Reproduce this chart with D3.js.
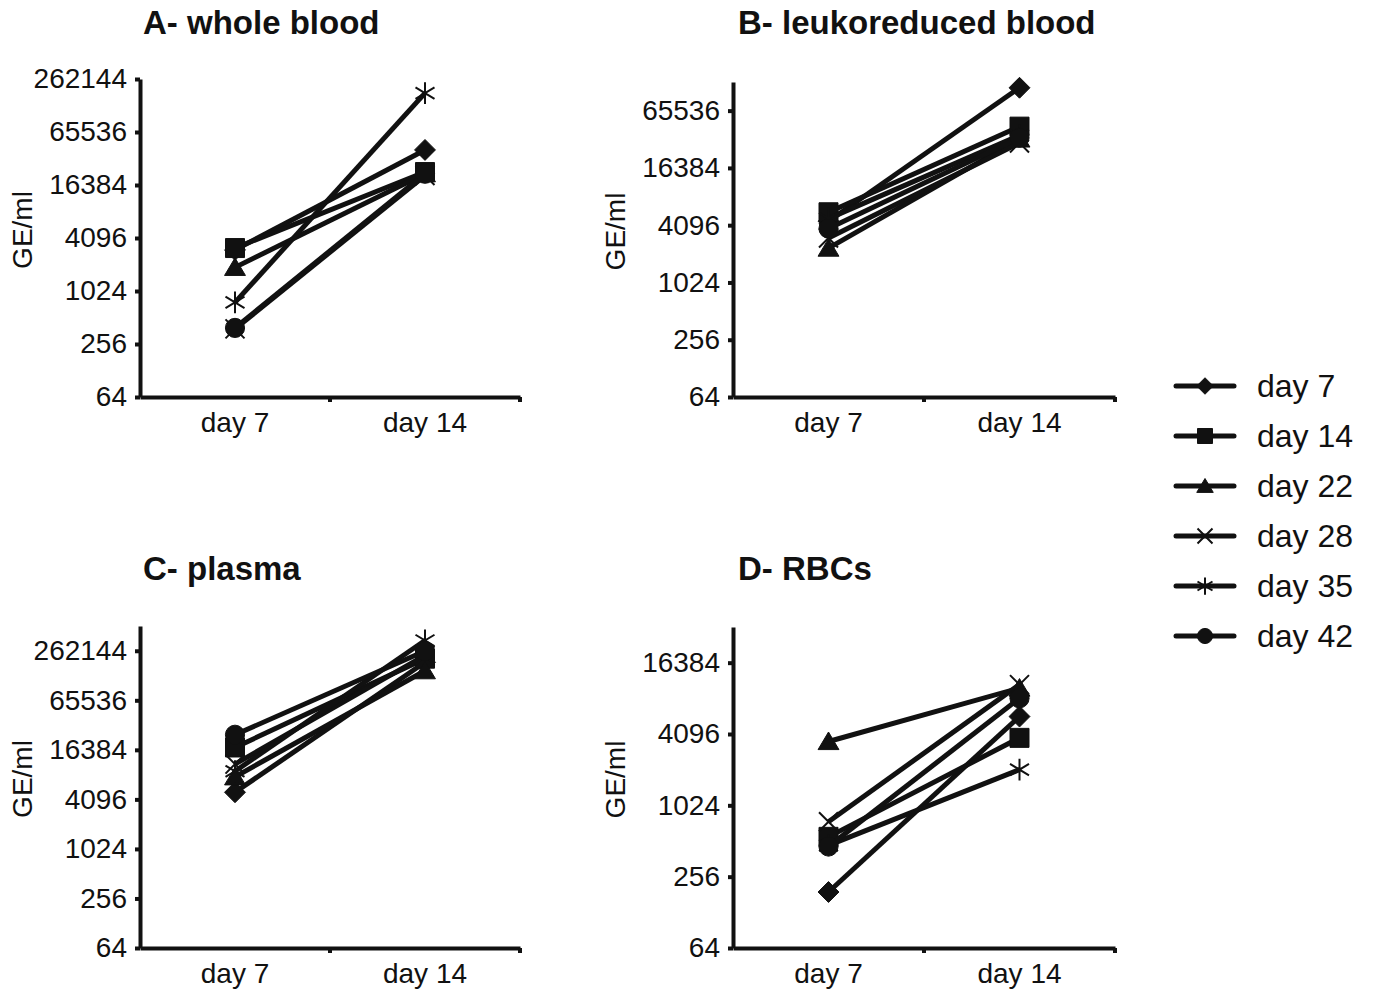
<!DOCTYPE html>
<html>
<head>
<meta charset="utf-8">
<script src="https://cdn.jsdelivr.net/npm/d3@7"></script>
<style>
  body { margin: 0; background: #fff; }
  text { font-family: Arial, "Liberation Sans", sans-serif; fill: #111; }
</style>
</head>
<body>
<script>
// categories
const timepoints = ["day 7", "day 14"];
const storage = ["day 7", "day 14", "day 22", "day 28", "day 35", "day 42"];
const tickVals = [64, 256, 1024, 4096, 16384, 65536, 262144];

// values per storage day: [day 7, day 14]  (GE/ml)
const wholeBlood = [[3000, 41000], [3150, 23000], [1900, 22000], [380, 21000], [760, 181000], [390, 22000]];
const leukoreduced = [[4500, 114000], [5600, 44500], [2350, 33000], [3000, 30000], [4800, 36000], [3770, 34000]];
const plasma = [[5000, 190000], [17500, 210000], [7700, 150000], [11000, 230000], [9000, 350000], [25000, 260000]];
const rbcs = [[190, 5750], [555, 3800], [3540, 10000], [745, 10700], [470, 2050], [460, 8200]];

const panels = [
  {title: "A- whole blood", data: wholeBlood, yMax: 262144, x0: 140, x1: 520, y0: 79, y1: 397, tx: 143, ty: 34},
  {title: "B- leukoreduced blood", data: leukoreduced, yMax: 131072, x0: 733, x1: 1115, y0: 82, y1: 397, tx: 738, ty: 34},
  {title: "C- plasma", data: plasma, yMax: 524288, x0: 140, x1: 520, y0: 626, y1: 948, tx: 143, ty: 580},
  {title: "D- RBCs", data: rbcs, yMax: 32768, x0: 733, x1: 1115, y0: 627, y1: 948, tx: 738, ty: 580}
];

// marker paths centred on 0,0
function marker(i, s) {
  const h = s / 2;
  switch (i) {
    case 0: return {d: `M0,${-h*1.1}L${h*1.1},0L0,${h*1.1}L${-h*1.1},0Z`, fill: true};
    case 1: return {d: `M${-h},${-h}H${h}V${h}H${-h}Z`, fill: true};
    case 2: return {d: `M0,${-h}L${h*1.1},${h*0.85}H${-h*1.1}Z`, fill: true};
    case 3: return {d: `M${-h},${-h}L${h},${h}M${h},${-h}L${-h},${h}`, fill: false};
    case 4: return {d: `M0,${-h*1.15}V${h*1.15}M${-h},${-h*0.6}L${h},${h*0.6}M${h},${-h*0.6}L${-h},${h*0.6}`, fill: false};
    default: return {d: d3.symbol(d3.symbolCircle, s * s * 0.8)(), fill: true};
  }
}

const svg = d3.select("body").append("svg")
    .attr("width", 1373)
    .attr("height", 994);

panels.forEach(p => {
  const x = d3.scaleBand().domain(timepoints).range([p.x0, p.x1]);
  const y = d3.scaleLog().base(2).domain([64, p.yMax]).range([p.y1, p.y0]);
  const g = svg.append("g");

  g.append("text")
      .attr("x", p.tx).attr("y", p.ty)
      .attr("font-size", 33).attr("font-weight", "bold")
      .text(p.title);

  g.append("text")
      .attr("transform", `translate(${p.x0 - 108},${(p.y0 + p.y1) / 2 - 8}) rotate(-90)`)
      .attr("text-anchor", "middle")
      .attr("font-size", 28)
      .text("GE/ml");

  // y axis
  const ya = g.append("g")
      .attr("transform", `translate(${p.x0},0)`)
      .call(d3.axisLeft(y)
        .tickValues(tickVals.filter(v => v <= p.yMax))
        .tickFormat(d3.format("d"))
        .tickSize(5).tickSizeOuter(0).tickPadding(8));
  ya.selectAll("path, line").attr("stroke", "#111").attr("stroke-width", 4);
  ya.selectAll("text").attr("font-size", 28).attr("font-family", "Arial, 'Liberation Sans', sans-serif").attr("fill", "#111");

  // x axis, labels centred on bands, ticks at band edges
  const xa = g.append("g")
      .attr("transform", `translate(0,${p.y1})`)
      .call(d3.axisBottom(x).tickSize(0).tickSizeOuter(0).tickPadding(15));
  xa.select("path").attr("stroke", "#111").attr("stroke-width", 4);
  xa.selectAll("text").attr("font-size", 28).attr("font-family", "Arial, 'Liberation Sans', sans-serif").attr("fill", "#111");
  xa.selectAll("line.edge")
    .data([x(timepoints[1]), x.range()[1]])
    .enter().append("line")
      .attr("class", "edge")
      .attr("x1", d => d).attr("x2", d => d)
      .attr("y1", 0).attr("y2", 5)
      .attr("stroke", "#111").attr("stroke-width", 4);

  const cx = t => x(t) + x.bandwidth() / 2;

  p.data.forEach((vals, i) => {
    const pts = vals.map((v, j) => [cx(timepoints[j]), y(v)]);
    g.append("path")
        .attr("d", d3.line()(pts))
        .attr("fill", "none")
        .attr("stroke", "#111")
        .attr("stroke-width", 5);
    const m = marker(i, 19);
    g.selectAll(null)
      .data(pts)
      .enter().append("path")
        .attr("transform", d => `translate(${d[0]},${d[1]})`)
        .attr("d", m.d)
        .attr("fill", m.fill ? "#111" : "none")
        .attr("stroke", "#111")
        .attr("stroke-width", m.fill ? 1 : 2);
  });
});

// legend
const leg = svg.append("g");
storage.forEach((s, i) => {
  const yy = 386 + i * 50;
  leg.append("line")
      .attr("x1", 1176).attr("x2", 1234)
      .attr("y1", yy).attr("y2", yy)
      .attr("stroke", "#111").attr("stroke-width", 5)
      .attr("stroke-linecap", "round");
  const m = marker(i, 15);
  leg.append("path")
      .attr("transform", `translate(1205,${yy})`)
      .attr("d", m.d)
      .attr("fill", m.fill ? "#111" : "none")
      .attr("stroke", "#111")
      .attr("stroke-width", m.fill ? 1 : 2);
  leg.append("text")
      .attr("x", 1257).attr("y", yy + 11)
      .attr("font-size", 32)
      .text(s);
});
</script>
</body>
</html>
